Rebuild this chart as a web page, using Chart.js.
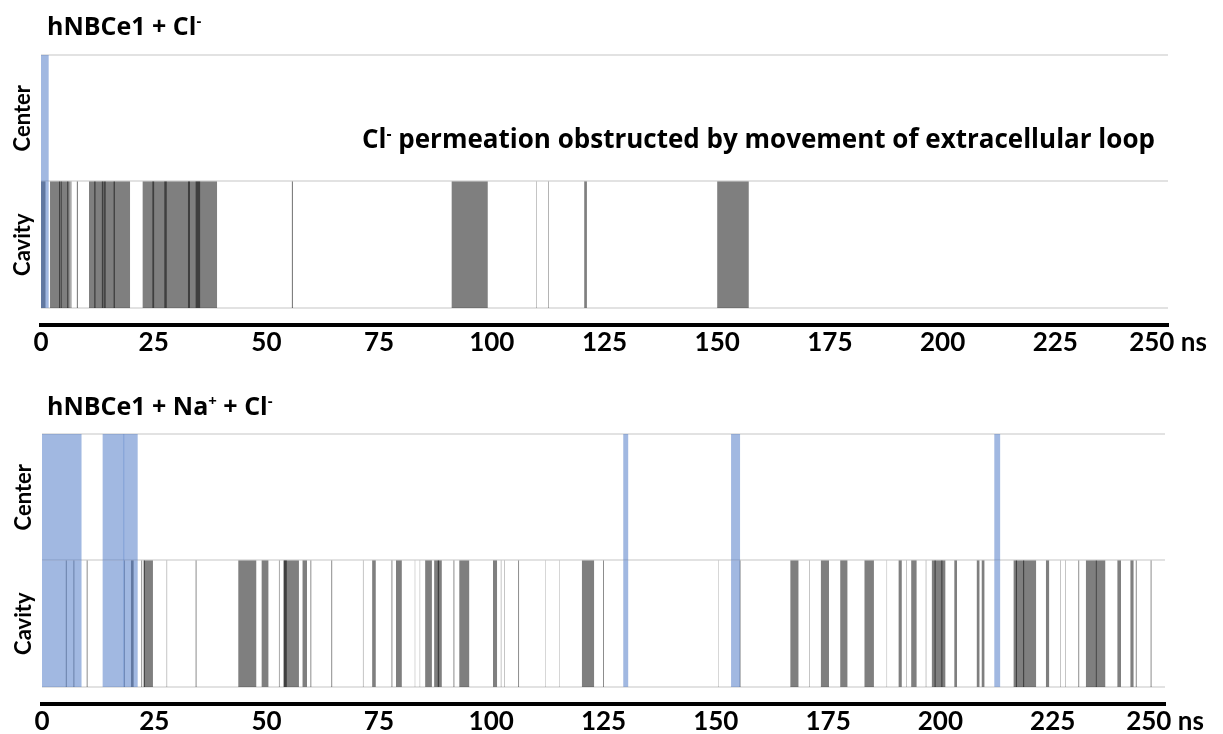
<!DOCTYPE html>
<html>
<head>
<meta charset="utf-8">
<script src="https://cdn.jsdelivr.net/npm/chart.js@4.4.1/dist/chart.umd.min.js"></script>
<style>
  html, body { margin: 0; padding: 0; background: #fff; overflow: hidden; }
  body { width: 1223px; height: 734px; position: relative; font-family: "Open Sans", Lato, sans-serif; font-weight: 700; color: #000; }
  .panel { position: absolute; left: 0; width: 1223px; height: 365px; }
  .title { position: absolute; left: 47px; font-size: 25px; line-height: 1; white-space: nowrap; }
  .note { position: absolute; left: 362px; top: 125px; font-size: 26px; line-height: 1; white-space: nowrap; }
  sup { font-size: 0.6em; vertical-align: 0.6em; line-height: 0; }
</style>
</head>
<body>
<div class="panel" style="top:0"><canvas id="chartCl" width="1223" height="365"></canvas></div>
<div class="panel" style="top:379px"><canvas id="chartNaCl" width="1223" height="365"></canvas></div>
<div class="title" style="top:13px">hNBCe1 + Cl<sup>-</sup></div>
<div class="note">Cl<sup>-</sup> permeation obstructed by movement of extracellular loop</div>
<div class="title" style="top:393px">hNBCe1 + Na<sup>+</sup> + Cl<sup>-</sup></div>
<script>
const rowNames = ["Center", "Cavity"];
const rowLevels = [1.5, 0.5];
const xTicks = [0, 25, 50, 75, 100, 125, 150, 175, 200, 225, 250];

// hNBCe1 + Cl- : occupancy intervals [start, end] in ns
const clCenter = [[0, 1.7]];
const clCavity = [
  [0, 1.0],
  [2.0, 6.4], [4.0, 4.25], [4.4, 4.6], [5.8, 6.05], [6.45, 6.6], [6.75, 6.85],
  [7.95, 8.2],
  [10.65, 19.75], [11.8, 12.1], [13.5, 13.85], [14.0, 14.35], [16.1, 16.4],
  [22.55, 39.05], [24.7, 25.1], [27.35, 27.9], [32.6, 33.05], [34.3, 35.3],
  [55.65, 55.9],
  [91.1, 99.1],
  [109.85, 109.95], [112.55, 112.68],
  [120.5, 121.1],
  [150.0, 157.0]
];

// hNBCe1 + Na+ + Cl-
const naclCenter = [[0, 8.8], [13.5, 18.3], [18.15, 21.3], [129.4, 130.5], [153.4, 155.4], [212.0, 213.3]];
const naclCavity = [
  [5.3, 5.5], [7.0, 7.2], [9.95, 10.15], [18.3, 18.45], [19.8, 20.4],
  [22.1, 22.3], [22.6, 24.7], [22.7, 22.9], [27.75, 27.85], [34.2, 34.4],
  [43.7, 47.7], [48.9, 50.4], [52.75, 52.9], [53.8, 57.2], [53.8, 54.5],
  [58.0, 59.0], [59.75, 59.95], [64.4, 64.6], [71.45, 71.55],
  [73.5, 74.3], [77.8, 78.0], [78.8, 80.1], [83.0, 83.07], [84.1, 84.17],
  [85.3, 86.8], [87.3, 89.0], [88.1, 88.4], [91.6, 91.8], [92.9, 95.1],
  [100.4, 101.3], [102.15, 102.25], [102.85, 102.95], [106.0, 106.2],
  [112.05, 112.12], [115.15, 115.22], [120.2, 122.9], [124.9, 125.1],
  [150.55, 150.62], [155.3, 155.5], [166.6, 168.4], [170.75, 170.85],
  [173.4, 175.2], [177.7, 179.3], [183.1, 185.2], [188.05, 188.12],
  [190.7, 191.4], [192.35, 192.45], [193.5, 194.7], [196.75, 196.85],
  [198.1, 201.1], [198.7, 198.95], [200.2, 200.45], [203.1, 203.7],
  [208.1, 208.7], [209.2, 209.8], [216.3, 221.3], [216.8, 217.05], [218.4, 218.65],
  [223.5, 224.2], [226.65, 226.75], [227.85, 227.95], [230.7, 230.9],
  [232.4, 236.7], [234.6, 234.8], [239.4, 240.2], [242.3, 243.0], [243.5, 243.7],
  [246.8, 247.0]
];

const GREY = "rgba(0,0,0,0.5)";
const BLUE = "rgba(68,114,196,0.5)";
const FONT = "Lato, 'Open Sans', sans-serif";

function toBars(intervals, level) {
  return intervals.map(iv => ({ x: iv, y: level }));
}

function makeChart(id, center, cavity, left, right) {
  // a center event is shaded over both rows
  const blue = toBars(center, rowLevels[0]).concat(toBars(center, rowLevels[1]));
  const barOpts = { grouped: false, barPercentage: 1, categoryPercentage: 1, borderWidth: 0, inflateAmount: 0 };

  new Chart(document.getElementById(id), {
    type: "bar",
    data: {
      datasets: [
        Object.assign({ label: rowNames[0], data: blue, backgroundColor: BLUE, order: 0 }, barOpts),
        Object.assign({ label: rowNames[1], data: toBars(cavity, rowLevels[1]), backgroundColor: GREY, order: 1 }, barOpts)
      ]
    },
    options: {
      indexAxis: "y",
      responsive: false,
      animation: false,
      layout: { padding: { top: 55, right: 1223 - right, left: 0, bottom: 0 } },
      plugins: { legend: { display: false }, tooltip: { enabled: false } },
      scales: {
        x: {
          type: "linear",
          position: "bottom",
          min: 0,
          max: 250,
          grid: { display: false, drawTicks: false },
          border: { display: true, color: "#000", width: 4 },
          afterBuildTicks: s => { s.ticks = xTicks.map(v => ({ value: v })); },
          afterFit: s => { s.height = 40; },
          ticks: {
            autoSkip: false,
            maxRotation: 0,
            padding: 2,
            color: "#000",
            font: { family: FONT, size: 26, weight: "bold" },
            callback: v => v === 250 ? v + " ns" : String(v)
          }
        },
        y: {
          type: "linear",
          min: -0.135,
          max: 2,
          offset: false,
          grid: { offset: true, color: "#e2e2e2", lineWidth: 2, drawTicks: false },
          border: { display: false },
          afterBuildTicks: s => { s.ticks = rowLevels.slice().sort((a, b) => a - b).map(v => ({ value: v })); },
          afterFit: s => { s.width = left; },
          ticks: {
            autoSkip: false,
            minRotation: 90,
            maxRotation: 90,
            crossAlign: "center",
            padding: -15,
            color: "#000",
            font: { family: FONT, size: 22, weight: "bold" },
            callback: v => rowNames[rowLevels.indexOf(v)]
          }
        }
      }
    }
  });
}

makeChart("chartCl", clCenter, clCavity, 41, 1168);
makeChart("chartNaCl", naclCenter, naclCavity, 42, 1165);
</script>
</body>
</html>
